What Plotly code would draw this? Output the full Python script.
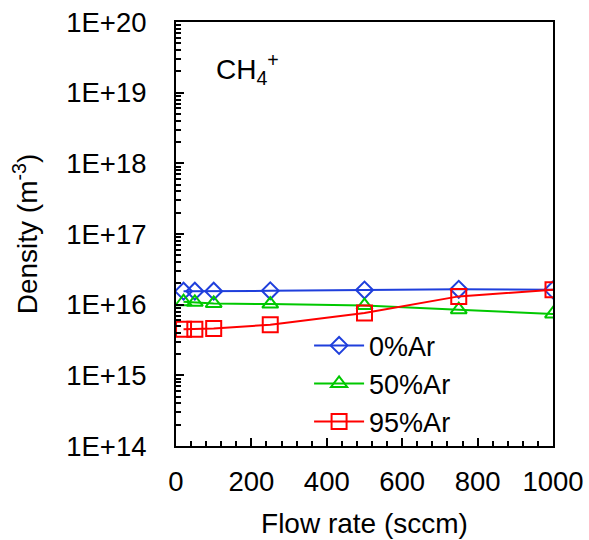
import plotly.graph_objects as go

flow = [20, 50, 100, 250, 500, 750, 1000]
ar0 = [1.55e16, 1.55e16, 1.55e16, 1.57e16, 1.61e16, 1.65e16, 1.62e16]
ar50 = [1.10e16, 1.08e16, 1.04e16, 1.02e16, 0.97e16, 0.85e16, 0.74e16]
ar95 = [4.5e15, 4.5e15, 4.6e15, 5.2e15, 7.6e15, 1.31e16, 1.62e16]
series_names = ["0%Ar", "50%Ar", "95%Ar"]
ytick_vals = [1e14, 1e15, 1e16, 1e17, 1e18, 1e19, 1e20]
ytick_text = ["1E+14", "1E+15", "1E+16", "1E+17", "1E+18", "1E+19", "1E+20"]
xtick_vals = [0, 200, 400, 600, 800, 1000]

FONT = "Liberation Sans, Arial, sans-serif"
FS = 28
TFS = 27.5

fig = go.Figure()
styles = [
    (ar0, "#1f3fdc", "diamond-open", 13),
    (ar50, "#00c800", "triangle-up-open", 14),
    (ar95, "#ff0000", "square-open", 15),
]
for name, (vals, col, sym, sz) in zip(series_names, styles):
    fig.add_trace(go.Scatter(
        x=flow, y=vals, name=name, mode="lines+markers",
        line=dict(color=col, width=2),
        marker=dict(symbol=sym, size=sz, color=col, line=dict(width=2, color=col)),
    ))

fig.update_layout(
    width=589, height=540,
    margin=dict(l=176, r=36, t=22, b=94, autoexpand=False),
    paper_bgcolor="white", plot_bgcolor="white",
    font=dict(family=FONT, size=FS, color="black"),
    showlegend=True,
    legend=dict(x=0.353, y=0.294, xanchor="left", yanchor="top",
                bgcolor="rgba(0,0,0,0)", font=dict(size=27),
                itemwidth=50, tracegroupgap=0),
    xaxis=dict(
        range=[0, 1000], tickvals=xtick_vals, ticks="inside", ticklen=8,
        tickwidth=1.5, tickcolor="black", automargin=False,
        tickfont=dict(size=TFS),
        minor=dict(dtick=40, ticks="inside", ticklen=5, tickcolor="black", tickwidth=1.5),
        showline=True, linecolor="black", linewidth=2, mirror=True,
        showgrid=False, zeroline=False, ticklabelstandoff=10,
        title=dict(text="Flow rate (sccm)", font=dict(size=FS), standoff=17),
    ),
    yaxis=dict(
        type="log", range=[14, 20], tickvals=ytick_vals, ticktext=ytick_text,
        ticks="inside", ticklen=8, tickwidth=1.5, tickcolor="black", automargin=False,
        tickfont=dict(size=TFS),
        minor=dict(dtick="D1", ticks="inside", ticklen=5, tickcolor="black", tickwidth=1.5),
        showline=True, linecolor="black", linewidth=2, mirror=True,
        showgrid=False, zeroline=False, ticklabelstandoff=22,
        title=dict(text="Density (m<sup>-3</sup>)", font=dict(size=FS), standoff=20),
    ),
)
fig.add_annotation(
    x=0.1, y=0.89, xref="paper", yref="paper", xanchor="left", yanchor="middle",
    text="CH<sub>4</sub><sup>+</sup>", showarrow=False, font=dict(size=FS),
)
fig.write_html("out.html")
